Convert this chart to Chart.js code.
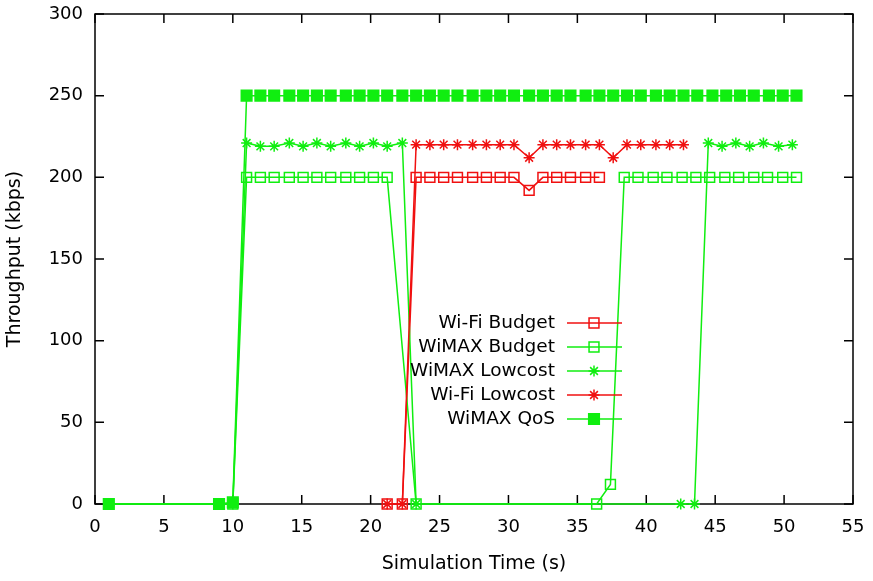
<!DOCTYPE html>
<html lang="en">
<head>
  <meta charset="UTF-8" />
  <title>Throughput vs Simulation Time</title>
  <script src="https://cdn.jsdelivr.net/npm/chart.js"></script>
  <style>
    body { margin: 0; background: #fff; }
    .wrap { width: 873px; height: 581px; }
  </style>
</head>
<body>
<div class="wrap"><canvas id="tputChart"></canvas></div>

<script>
  // --- data (time in s, throughput in kbps) ---
  const qosTime = [1.0, 9.0, 10.0, 11.0, 12.0, 13.0, 14.1, 15.1, 16.1, 17.1, 18.2, 19.2, 20.2,
    21.2, 22.3, 23.3, 24.3, 25.3, 26.3, 27.4, 28.4, 29.4, 30.4, 31.5, 32.5, 33.5, 34.5, 35.6,
    36.6, 37.6, 38.6, 39.6, 40.7, 41.7, 42.7, 43.7, 44.8, 45.8, 46.8, 47.8, 48.9, 49.9, 50.9];
  const qosRate = [0, 0, 1, 250, 250, 250, 250, 250, 250, 250, 250, 250, 250,
    250, 250, 250, 250, 250, 250, 250, 250, 250, 250, 250, 250, 250, 250, 250,
    250, 250, 250, 250, 250, 250, 250, 250, 250, 250, 250, 250, 250, 250, 250];

  const wimaxBudgetTime = [1.0, 9.0, 10.0, 11.0, 12.0, 13.0, 14.1, 15.1, 16.1, 17.1, 18.2, 19.2, 20.2, 21.2,
    23.3, 36.4, 37.4, 38.4, 39.4, 40.5, 41.5, 42.6, 43.6, 44.6, 45.7, 46.7, 47.8, 48.8, 49.9, 50.9];
  const wimaxBudgetRate = [0, 0, 0, 200, 200, 200, 200, 200, 200, 200, 200, 200, 200, 200,
    0, 0, 12, 200, 200, 200, 200, 200, 200, 200, 200, 200, 200, 200, 200, 200];

  const wimaxLowcostTime = [1.0, 9.0, 10.0, 11.0, 12.0, 13.0, 14.1, 15.1, 16.1, 17.1, 18.2, 19.2, 20.2, 21.2, 22.3,
    23.3, 42.5, 43.5, 44.5, 45.5, 46.5, 47.5, 48.5, 49.6, 50.6];
  const wimaxLowcostRate = [0, 0, 0, 221, 219, 219, 221, 219, 221, 219, 221, 219, 221, 219, 221,
    0, 0, 0, 221, 219, 221, 219, 221, 219, 220];

  const wifiBudgetTime = [21.2, 22.3, 23.3, 24.3, 25.3, 26.3, 27.4, 28.4, 29.4, 30.4, 31.5, 32.5, 33.5, 34.5, 35.6, 36.6];
  const wifiBudgetRate = [0, 0, 200, 200, 200, 200, 200, 200, 200, 200, 192, 200, 200, 200, 200, 200];

  const wifiLowcostTime = [21.2, 22.3, 23.3, 24.3, 25.3, 26.3, 27.4, 28.4, 29.4, 30.4, 31.5, 32.5, 33.5, 34.5, 35.6,
    36.6, 37.6, 38.6, 39.6, 40.7, 41.7, 42.7];
  const wifiLowcostRate = [0, 0, 220, 220, 220, 220, 220, 220, 220, 220, 212, 220, 220, 220, 220,
    220, 212, 220, 220, 220, 220, 220];

  const seriesNames = ['Wi-Fi Budget', 'WiMAX Budget', 'WiMAX Lowcost', 'Wi-Fi Lowcost', 'WiMAX QoS'];
  const xTicks = [0, 5, 10, 15, 20, 25, 30, 35, 40, 45, 50, 55];
  const yTicks = [0, 50, 100, 150, 200, 250, 300];

  const RED = '#f01010';
  const GREEN = '#10ee10';

  function pts(xs, ys) {
    return xs.map((x, i) => ({ x: x, y: ys[i] }));
  }

  function series(label, xs, ys, color, style, filled, radius, order) {
    return {
      label: label,
      data: pts(xs, ys),
      borderColor: color,
      borderWidth: 1.5,
      pointStyle: style,
      pointRadius: radius,
      pointBorderWidth: 1.5,
      pointBorderColor: color,
      pointBackgroundColor: filled ? color : 'rgba(0,0,0,0)',
      tension: 0,
      clip: false,
      order: order
    };
  }

  // gnuplot-style box with inward ticks on all four sides
  const frame = {
    id: 'frame',
    beforeDatasetsDraw(chart) {
      const { ctx, chartArea: a, scales } = chart;
      ctx.save();
      ctx.strokeStyle = '#000';
      ctx.lineWidth = 1.5;
      ctx.strokeRect(a.left, a.top, a.right - a.left, a.bottom - a.top);
      ctx.beginPath();
      xTicks.forEach(v => {
        const px = scales.x.getPixelForValue(v);
        ctx.moveTo(px, a.bottom); ctx.lineTo(px, a.bottom - 9);
        ctx.moveTo(px, a.top); ctx.lineTo(px, a.top + 9);
      });
      yTicks.forEach(v => {
        const py = scales.y.getPixelForValue(v);
        ctx.moveTo(a.left, py); ctx.lineTo(a.left + 9, py);
        ctx.moveTo(a.right, py); ctx.lineTo(a.right - 9, py);
      });
      ctx.stroke();
      ctx.restore();
    }
  };

  // key drawn inside the plot, text to the left of the sample
  const key = {
    id: 'key',
    afterDatasetsDraw(chart) {
      const ctx = chart.ctx;
      const textRight = 555, lineL = 567, lineR = 622, markX = 594, top = 323, step = 24;
      ctx.save();
      ctx.font = '18.5px "DejaVu Sans"';
      ctx.textAlign = 'right';
      ctx.textBaseline = 'middle';
      seriesNames.forEach((name, i) => {
        const ds = chart.data.datasets.find(d => d.label === name);
        const y = top + i * step;
        ctx.fillStyle = '#000';
        ctx.fillText(name, textRight, y);
        ctx.strokeStyle = ds.borderColor;
        ctx.lineWidth = 1.5;
        ctx.beginPath();
        ctx.moveTo(lineL, y); ctx.lineTo(lineR, y);
        ctx.stroke();
        ctx.fillStyle = ds.pointBackgroundColor;
        Chart.helpers.drawPoint(ctx, {
          pointStyle: ds.pointStyle, radius: ds.pointRadius, rotation: 0, borderWidth: 1.5
        }, markX, y);
      });
      ctx.restore();
    }
  };

  Chart.defaults.font.family = '"DejaVu Sans"';
  Chart.defaults.font.size = 18;
  Chart.defaults.color = '#000';

  new Chart(document.getElementById('tputChart'), {
    type: 'line',
    data: {
      datasets: [
        series('Wi-Fi Budget', wifiBudgetTime, wifiBudgetRate, RED, 'rect', false, 7, 5),
        series('WiMAX Budget', wimaxBudgetTime, wimaxBudgetRate, GREEN, 'rect', false, 7, 4),
        series('WiMAX Lowcost', wimaxLowcostTime, wimaxLowcostRate, GREEN, 'star', false, 5.5, 3),
        series('Wi-Fi Lowcost', wifiLowcostTime, wifiLowcostRate, RED, 'star', false, 5.5, 2),
        series('WiMAX QoS', qosTime, qosRate, GREEN, 'rect', true, 7.5, 1)
      ]
    },
    options: {
      responsive: true,
      maintainAspectRatio: false,
      animation: false,
      layout: { padding: { top: 14, right: 20, left: 0, bottom: 0 } },
      plugins: { legend: { display: false }, tooltip: { enabled: false } },
      scales: {
        x: {
          type: 'linear',
          min: 0, max: 55,
          grid: { display: false, drawTicks: false },
          border: { display: false },
          ticks: { stepSize: 5, padding: 13, maxRotation: 0 },
          title: { display: true, text: 'Simulation Time (s)', font: { size: 19 }, padding: { top: 4, bottom: 6 } },
          afterFit(s) { s.height = 77; s.paddingLeft = 0; s.paddingRight = 0; }
        },
        y: {
          min: 0, max: 300,
          grid: { display: false, drawTicks: false },
          border: { display: false },
          ticks: { stepSize: 50, padding: 12 },
          title: { display: true, text: 'Throughput (kbps)', font: { size: 19 }, padding: { top: 4, bottom: 4 } },
          afterFit(s) { s.width = 95; s.paddingTop = 0; s.paddingBottom = 0; }
        }
      }
    },
    plugins: [frame, key]
  });
</script>
</body>
</html>
